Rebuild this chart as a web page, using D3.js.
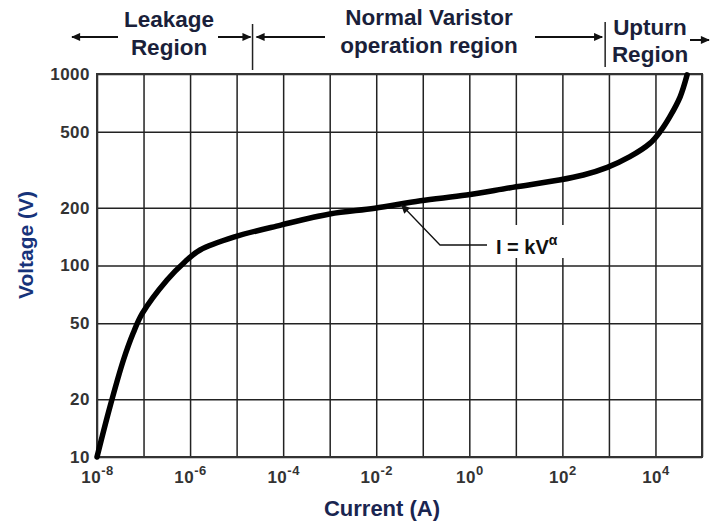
<!DOCTYPE html>
<html>
<head>
<meta charset="utf-8">
<script src="https://cdn.jsdelivr.net/npm/d3@7"></script>
<style>
  body { margin: 0; background: #fff; }
  text { font-family: "Liberation Sans", Arial, sans-serif; font-weight: bold; }
</style>
</head>
<body>
<div id="chart"></div>
<script>
// V-I curve of a metal oxide varistor
const currentA = [1e-8, 1.9e-8, 3.7e-8, 6.0e-8, 9.4e-8, 3.2e-7, 7.8e-7, 1.64e-6, 9.0e-6,
    8.9e-5, 1e-3, 9.3e-3, 0.089, 0.87, 8.5, 85, 282, 923, 2820, 7590, 12600, 20400, 33900, 47900];
const voltageV = [10, 18.3, 32.1, 44.4, 56.2, 84, 104.7, 120.5, 141,
    162.6, 185.8, 199, 217.7, 233.4, 255.9, 279.4, 297, 325.6, 370, 434, 500, 599, 760, 990];

const xLabelExponents = [-8, -6, -4, -2, 0, 2, 4];
const yTickValues = [10, 20, 50, 100, 200, 500, 1000];

// region borders (current, A) and the formula pointer
const regionBorders = [2.2e-5, 830];
const formulaPoint = [0.035, 207];

const width = 710;
const height = 522;
const margin = {top: 74, right: 8, bottom: 65, left: 97};
const plotW = width - margin.left - margin.right;
const plotH = height - margin.top - margin.bottom;

const svg = d3.select("#chart")
    .append("svg")
    .attr("width", width)
    .attr("height", height);

const defs = svg.append("defs");
defs.append("marker")
    .attr("id", "head")
    .attr("viewBox", "0 -5 10 10")
    .attr("refX", 9)
    .attr("refY", 0)
    .attr("markerWidth", 11)
    .attr("markerHeight", 9)
    .attr("markerUnits", "userSpaceOnUse")
    .attr("orient", "auto")
    .append("path")
    .attr("d", "M0,-4.5L10,0L0,4.5Z")
    .attr("fill", "#111");

const x = d3.scaleLog()
    .domain([1e-8, 1e5])
    .range([margin.left, width - margin.right]);

const y = d3.scaleLog()
    .domain([10, 1000])
    .range([height - margin.bottom, margin.top]);

// grid
svg.append("g")
    .attr("class", "xgrid")
    .attr("transform", `translate(0,${height - margin.bottom})`)
    .call(d3.axisBottom(x).tickValues(x.ticks()).tickSize(-plotH).tickFormat(""))
    .call(g => g.select(".domain").remove())
    .selectAll("line")
    .attr("stroke", "#222")
    .attr("stroke-width", 1.5);

svg.append("g")
    .attr("class", "ygrid")
    .attr("transform", `translate(${margin.left},0)`)
    .call(d3.axisLeft(y).tickValues(yTickValues).tickSize(-plotW).tickFormat(""))
    .call(g => g.select(".domain").remove())
    .selectAll("line")
    .attr("stroke", "#222")
    .attr("stroke-width", 1.5);

// frame
svg.append("rect")
    .attr("x", margin.left)
    .attr("y", margin.top)
    .attr("width", plotW)
    .attr("height", plotH)
    .attr("fill", "none")
    .attr("stroke", "#333")
    .attr("stroke-width", 2);

// tick labels
const xLabels = svg.append("g")
    .attr("transform", `translate(0,${height - margin.bottom})`)
    .call(d3.axisBottom(x).tickValues(xLabelExponents.map(e => Math.pow(10, e))).tickSize(0).tickPadding(14).tickFormat(""))
    .call(g => g.select(".domain").remove());

xLabels.selectAll(".tick text")
    .attr("fill", "#333")
    .attr("font-size", 17)
    .attr("letter-spacing", 0.5)
    .each(function(d) {
        const t = d3.select(this);
        t.append("tspan").text("10");
        t.append("tspan")
            .attr("font-size", 13)
            .attr("dy", -8)
            .text(Math.round(Math.log10(d)));
    });

svg.append("g")
    .attr("transform", `translate(${margin.left},0)`)
    .call(d3.axisLeft(y).tickValues(yTickValues).tickSize(0).tickPadding(7).tickFormat(d3.format("d")))
    .call(g => g.select(".domain").remove())
    .selectAll(".tick text")
    .attr("fill", "#333")
    .attr("font-size", 17)
    .attr("letter-spacing", 0.5);

// curve
const line = d3.line()
    .x((d, i) => x(currentA[i]))
    .y(d => y(d))
    .curve(d3.curveCatmullRom.alpha(0.5));

svg.append("path")
    .datum(voltageV)
    .attr("d", line)
    .attr("fill", "none")
    .attr("stroke", "#000")
    .attr("stroke-width", 5.5)
    .attr("stroke-linecap", "round");

// axis titles
svg.append("text")
    .attr("x", 382)
    .attr("y", 516)
    .attr("text-anchor", "middle")
    .attr("font-size", 22)
    .attr("fill", "#1a2550")
    .text("Current (A)");

svg.append("text")
    .attr("transform", "translate(33,245) rotate(-90)")
    .attr("text-anchor", "middle")
    .attr("font-size", 21)
    .attr("fill", "#17337a")
    .text("Voltage (V)");

// formula label
const fx = x(formulaPoint[0]);
const fy = y(formulaPoint[1]);
svg.append("rect")
    .attr("x", 490)
    .attr("y", 225)
    .attr("width", 78)
    .attr("height", 33)
    .attr("fill", "#fff");

svg.append("path")
    .attr("d", `M487,245 L440,245 L${fx},${fy}`)
    .attr("fill", "none")
    .attr("stroke", "#111")
    .attr("stroke-width", 1.3)
    .attr("marker-end", "url(#head)");

const formula = svg.append("text")
    .attr("x", 496)
    .attr("y", 254)
    .attr("font-size", 20)
    .attr("fill", "#111");
formula.append("tspan").text("I = kV");
formula.append("tspan").attr("font-size", 14).attr("dy", -9).text("α");

// region labels on top
const regionColor = "#1a1f3a";
const regions = [
    {lines: ["Leakage", "Region"], x: 169, y: [27, 55]},
    {lines: ["Normal Varistor", "operation region"], x: 429, y: [25, 53]},
    {lines: ["Upturn", "Region"], x: 650, y: [35, 62]}
];
regions.forEach(r => {
    r.lines.forEach((s, i) => {
        svg.append("text")
            .attr("x", r.x)
            .attr("y", r.y[i])
            .attr("text-anchor", "middle")
            .attr("font-size", 22.5)
            .attr("fill", regionColor)
            .text(s);
    });
});

regionBorders.forEach((c, i) => {
    svg.append("line")
        .attr("x1", x(c)).attr("x2", x(c))
        .attr("y1", i === 0 ? 24 : 22)
        .attr("y2", i === 0 ? 70 : 67)
        .attr("stroke", "#222")
        .attr("stroke-width", 1.5);
});

const b0 = x(regionBorders[0]);
const b1 = x(regionBorders[1]);
const arrows = [
    [118, 37, 72, 37],
    [218, 37, b0 - 2, 37],
    [325, 37, b0 + 4, 37],
    [535, 37, b1 - 3, 37],
    [690, 40, 709, 40]
];
svg.selectAll(".arrow")
    .data(arrows)
    .enter()
    .append("line")
    .attr("class", "arrow")
    .attr("x1", d => d[0]).attr("y1", d => d[1])
    .attr("x2", d => d[2]).attr("y2", d => d[3])
    .attr("stroke", "#111")
    .attr("stroke-width", 2)
    .attr("marker-end", "url(#head)");
</script>
</body>
</html>
